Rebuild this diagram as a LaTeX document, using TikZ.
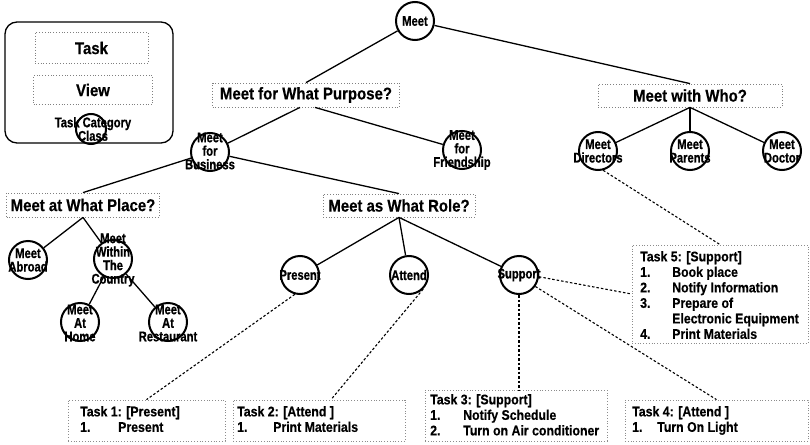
\documentclass[tikz,border=0pt]{standalone}
\usepackage{fontspec}
\setmainfont{Liberation Sans}[FakeStretch=0.88]
\newfontfamily\cfont{Liberation Sans}[FakeStretch=0.8,FakeBold=0.8]
\newfontfamily\qfont{Liberation Sans}[FakeStretch=0.88,FakeBold=0.4]
\begin{document}
\begin{tikzpicture}[x=1pt,y=-1pt,
  mc/.style={circle,draw,line width=2pt,minimum size=38pt,inner sep=0pt},
  ct/.style={font=\cfont\fontsize{14}{13.5}\selectfont\bfseries,align=center,inner sep=0pt},
  qbox/.style={draw=black!50,dotted,line width=0.8pt,inner sep=0pt,font=\qfont\fontsize{17}{18}\selectfont\bfseries},
  tbox/.style={draw=black!45,dotted,line width=0.8pt,inner sep=0pt},
  tt/.style={font=\qfont\fontsize{14}{15.5}\selectfont\bfseries,align=left,inner sep=0pt,anchor=north west},
  link/.style={line width=1.3pt},
  dl/.style={line width=1.1pt,dash pattern=on 2.5pt off 2pt}]
\useasboundingbox (0,0) rectangle (810,444);

% legend
\node[draw,line width=1.3pt,rounded corners=12pt,minimum width=168pt,minimum height=121pt,inner sep=0pt] (legend) at (89,82.5) {};
\node[qbox,minimum width=113pt,minimum height=31pt] (ltask) at (91.5,48) {Task};
\node[qbox,minimum width=119pt,minimum height=29pt] (lview) at (93,90) {View};
\node[mc,minimum size=30pt] (lclass) at (91,129) {};
\node[ct] (lclasst) at (93,129) {Task Category\\Class};

% circles
\node[mc] (root) at (415,21) {};
\node[mc] (business) at (210,152) {};
\node[mc] (friend) at (462,150) {};
\node[mc] (directors) at (598,151) {};
\node[mc] (parents) at (690,151) {};
\node[mc] (doctor) at (782,151) {};
\node[mc] (abroad) at (28,260) {};
\node[mc] (within) at (113,259) {};
\node[mc] (home) at (80,322) {};
\node[mc] (rest) at (168,322) {};
\node[mc] (present) at (300,275) {};
\node[mc] (attend) at (409,275) {};
\node[mc] (support) at (519,275) {};

% circle texts
\node[ct] (roott) at (root) {Meet};
\node[ct] (businesst) at (210,151) {Meet\\for\\Business};
\node[ct] (friendt) at (462,150) {Meet\\for\\Friendship};
\node[ct] (directorst) at (598,151) {Meet\\Directors};
\node[ct] (parentst) at (690,151) {Meet\\Parents};
\node[ct] (doctort) at (782,151) {Meet\\Doctor};
\node[ct] (abroadt) at (28,260) {Meet\\Abroad};
\node[ct] (withint) at (113,260) {Meet\\Within\\The\\Country};
\node[ct] (homet) at (80,323) {Meet\\At\\Home};
\node[ct] (restt) at (168,323) {Meet\\At\\Restaurant};
\node[ct] (presentt) at (present) {Present};
\node[ct] (attendt) at (attend) {Attend};
\node[ct] (supportt) at (support) {Support};

% question boxes
\node[qbox,minimum width=187pt,minimum height=24pt] (purpose) at (306,95) {Meet for What Purpose?};
\node[qbox,minimum width=184pt,minimum height=23pt] (who) at (690,95.5) {Meet with Who?};
\node[qbox,minimum width=153pt,minimum height=24pt] (place) at (83,205) {Meet at What Place?};
\node[qbox,minimum width=152pt,minimum height=23pt] (role) at (399,205.5) {Meet as What Role?};

% task boxes
\node[tbox,minimum width=157pt,minimum height=41pt] (task1) at (146.5,420.5) {};
\node[tt] (task1t) at (80,406) {Task 1: [Present]\\\makebox[38pt][l]{1.}Present};
\node[tbox,minimum width=172pt,minimum height=41pt] (task2) at (319,420.5) {};
\node[tt] (task2t) at (237,406) {Task 2: [Attend ]\\\makebox[36pt][l]{1.}Print Materials};
\node[tbox,minimum width=182pt,minimum height=51pt] (task3) at (516,415.5) {};
\node[tt] (task3t) at (430,394) {Task 3: [Support]\\\makebox[33pt][l]{1.}Notify Schedule\\\makebox[33pt][l]{2.}Turn on Air conditioner};
\node[tbox,minimum width=183pt,minimum height=41pt] (task4) at (716.5,420.5) {};
\node[tt] (task4t) at (632,406) {Task 4: [Attend ]\\\makebox[25pt][l]{1.}Turn On Light};
\node[tbox,minimum width=176pt,minimum height=98pt] (task5) at (720,294) {};
\node[tt] (task5t) at (640,251) {Task 5: [Support]\\\makebox[32pt][l]{1.}Book place\\\makebox[32pt][l]{2.}Notify Information\\\makebox[32pt][l]{3.}Prepare of\\\hspace*{32pt}Electronic Equipment\\\makebox[32pt][l]{4.}Print Materials};

% solid connectors
\draw[link] (root) -- (purpose.north);
\draw[link] (root) -- (who.north);
\draw[link] ([xshift=-6pt]purpose.south) -- (business);
\draw[link] ([xshift=9pt]purpose.south) -- (friend);
\draw[link] (who.south) -- (directors);
\draw[link] (who.south) -- (parents);
\draw[link] (who.south) -- (doctor);
\draw[link] (business) -- (place.north);
\draw[link] (business) -- (role.north);
\draw[link] (place.south) -- (abroad);
\draw[link] (place.south) -- (within);
\draw[link] (within) -- (home);
\draw[link] (within) -- (rest);
\draw[link] (role.south) -- (present);
\draw[link] (role.south) -- (attend);
\draw[link] (role.south) -- (support);

% dashed connectors
\draw[dl] (present.-105) -- (task1.north);
\draw[dl] (attend.-45) -- ([xshift=12pt]task2.north);
\draw[dl] (support.south) -- (support.south |- task3.north);
\draw[dl] (support.-5) -- (task5.west);
\draw[dl] (support.-35) -- (task4.north);
\draw[dl] (directors.-75) -- (task5.north);
\end{tikzpicture}
\end{document}
